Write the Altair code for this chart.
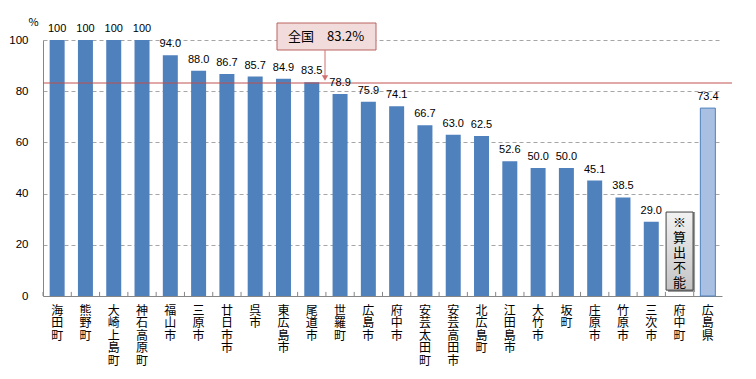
import altair as alt
import pandas as pd

names = ["海田町", "熊野町", "大崎上島町", "神石高原町", "福山市", "三原市", "廿日市市", "呉市",
         "東広島市", "尾道市", "世羅町", "広島市", "府中市", "安芸太田町", "安芸高田市", "北広島町",
         "江田島市", "大竹市", "坂町", "庄原市", "竹原市", "三次市", "府中町", "広島県"]
values = [100, 100, 100, 100, 94.0, 88.0, 86.7, 85.7, 84.9, 83.5, 78.9, 75.9, 74.1, 66.7,
          63.0, 62.5, 52.6, 50.0, 50.0, 45.1, 38.5, 29.0, None, 73.4]
value_labels = ["100", "100", "100", "100", "94.0", "88.0", "86.7", "85.7", "84.9", "83.5",
                "78.9", "75.9", "74.1", "66.7", "63.0", "62.5", "52.6", "50.0", "50.0",
                "45.1", "38.5", "29.0", "", "73.4"]
kinds = ["muni"] * 23 + ["pref"]
national = 83.2
national_text = "全国　83.2%"
na_name = "府中町"
na_text = ["※", "算", "出", "不", "能"]
y_ticks = [0, 20, 40, 60, 80, 100]

df = pd.DataFrame({"name": names, "value": values, "label": value_labels, "kind": kinds})

JP = "Noto Sans CJK JP"
BLUE = "#4f81bd"
RED = "#c0504d"

xenc = alt.X("name:N", sort=names,
             scale=alt.Scale(paddingInner=0.47, paddingOuter=0.235),
             axis=alt.Axis(title=None, labelAngle=0, labelExpr="split(datum.label, '')",
                           labelLineHeight=12.5, labelFont=JP, labelFontSize=12,
                           labelColor="black", labelBaseline="top", labelPadding=9,
                           labelOverlap=False, labelBound=False,
                           ticks=False, domainColor="#868686"))
yenc = alt.Y("value:Q", scale=alt.Scale(domain=[0, 100], nice=False),
             axis=alt.Axis(values=y_ticks, title="%", titleAngle=0, titleX=-10, titleY=-18,
                           titleAlign="center", titleBaseline="middle", titleFontSize=11,
                           titleFontWeight="normal", titleFont=JP, labelFont="Liberation Sans",
                           labelFontSize=11.5, labelColor="black", labelPadding=15, ticks=False,
                           domainColor="#868686", gridColor="#a6a6a6", gridDash=[4, 3]))

base = alt.Chart(df)

bars = base.transform_filter("datum.kind == 'muni' && isValid(datum.value)").mark_bar(
    color=BLUE).encode(x=xenc, y=yenc)

pref = base.transform_filter("datum.kind == 'pref'").mark_bar(
    fill="#a9c0e2", stroke=BLUE, strokeWidth=1).encode(x=alt.X("name:N", sort=names), y="value:Q")

texts = base.transform_filter("isValid(datum.value)").mark_text(
    baseline="alphabetic", dy=-8, fontSize=11, font="Liberation Sans", color="black").encode(
    x=alt.X("name:N", sort=names), y="value:Q", text="label:N")

xticks = base.mark_rule(color="#868686", xOffset=-14.15).encode(
    x=alt.X("name:N", sort=names), y=alt.datum(0), y2=alt.datum(1.6))

natline = alt.Chart(pd.DataFrame({"v": [national]})).mark_rule(color=RED, strokeWidth=1).encode(
    y=alt.Y("v:Q"), x=alt.value(0), x2=alt.value(690))

one = pd.DataFrame({"a": [0]})
callout_box = alt.Chart(one).mark_rect(fill="#f2dcdb", stroke="#b9625f", strokeWidth=1).encode(
    x=alt.value(234), x2=alt.value(333), y=alt.value(-17), y2=alt.value(10))
callout_text = alt.Chart(one).mark_text(text=national_text, align="left", baseline="middle",
                                        font=JP, fontSize=13, color="black").encode(
    x=alt.value(245), y=alt.value(-3.5))
arrow = alt.Chart(one).mark_rule(color="#d07070", strokeWidth=1).encode(
    x=alt.value(282), y=alt.value(10), y2=alt.value(37))
arrowhead = alt.Chart(one).mark_point(shape="triangle-down", filled=True, size=40,
                                      color="#d07070", opacity=1).encode(
    x=alt.value(282), y=alt.value(38))

na_df = pd.DataFrame({"name": [na_name], "lo": [2.3], "hi": [32.8]})
na_shadow = alt.Chart(na_df).mark_bar(width=27, color="#9a9a9a", xOffset=2, yOffset=2).encode(
    x=alt.X("name:N", sort=names), y="lo:Q", y2="hi:Q")
na_box = alt.Chart(na_df).mark_bar(
    width=27, stroke="#404040", strokeWidth=1,
    fill=alt.Gradient(gradient="linear", x1=0, y1=0, x2=0, y2=1,
                      stops=[alt.GradientStop(color="#f2f2f2", offset=0),
                             alt.GradientStop(color="#c4c4c4", offset=1)])).encode(
    x=alt.X("name:N", sort=names), y="lo:Q", y2="hi:Q")
na_label = alt.Chart(na_df).mark_text(text=na_text, lineHeight=15, fontSize=13, font=JP,
                                      baseline="top", dy=5, color="black").encode(
    x=alt.X("name:N", sort=names), y="hi:Q")

chart = alt.layer(bars, pref, xticks, natline, texts, na_shadow, na_box, na_label,
                  callout_box, callout_text, arrow, arrowhead).properties(
    width=679, height=256,
    autosize=alt.AutoSizeParams(type="none"),
    padding={"left": 35, "top": 32, "right": 10, "bottom": 70},
    background="white",
).configure_view(stroke=None)

chart.save("out.html", embed_options={"renderer": "svg", "actions": False})
